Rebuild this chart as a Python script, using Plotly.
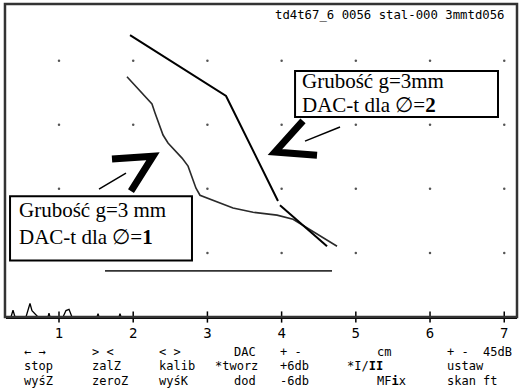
import plotly.graph_objects as go

# ---- data ----
header_text = "td4t67_6 0056 stal-000 3mmtd056"
x_ticks = [1, 2, 3, 4, 5, 6, 7]
grid_levels = [20, 40, 60, 80]

dac2_x = [1.957, 3.251, 3.951, None, 3.978, 4.612]
dac2_y = [88.0, 69.0, 36.2, None, 34.9, 22.1]

dac1_x = [1.916, 2.199, 2.253, 2.294, 2.361, 2.402, 2.469, 2.563, 2.658, 2.739, 2.792,
          2.846, 2.900, 3.035, 3.345, 3.615, 3.938, 4.154, 4.288, 4.518, 4.747]
dac1_y = [75.0, 67.7, 66.5, 63.7, 59.0, 56.8, 54.3, 52.1, 49.6, 47.1, 43.7,
          40.2, 38.0, 36.8, 34.0, 32.7, 31.8, 30.5, 28.6, 25.2, 22.1]

gate_x = [1.620, 4.679]
gate_y = [14.4, 14.4]

noise_x = [0.286, 0.353, 0.380, 0.407, 0.555, 0.596, 0.609, 0.636, 0.677, 0.717, 0.852,
           0.865, 0.879, 1.054, 1.094, 1.135, 1.175, 1.512, 1.526, 1.539, 1.809, 1.822, 1.836, 2.0]
noise_y = [0, 0, 2.1, 0, 0, 3.5, 4.2, 2.0, 1.0, 0, 0,
           1.2, 0, 0, 2.0, 2.4, 0, 0, 1.0, 0, 0, 1.0, 0, 0]

menu_rows = [
    ["\u2190 \u2192", "> <", "< >", "DAC", "+ -", "cm", "+ -  45dB"],
    ["stop", "zalZ", "kalib", "*tworz", "+6db", "*I/<b>II</b>", "ustaw"],
    ["wyśZ", "zeroZ", "wyśK", "dod", "-6db", "MF<b>i</b>x", "skan ft"],
]
menu_col_px = [
    [22, 90, 157, 232, 278, 375, 445],
    [22, 90, 157, 213, 278, 345, 445],
    [22, 90, 157, 232, 278, 375, 445],
]
menu_row_py = [351.5, 366.5, 381]

W, H = 523, 389
L, R, T, B = 6, 6, 4, 72
XMIN, XMAX = 0.2857, 7.172
YMIN, YMAX = 0, 97.7

fig = go.Figure()

# grid dots
gx, gy = [], []
for yv in grid_levels:
    for xv in x_ticks:
        gx.append(xv); gy.append(yv)
fig.add_trace(go.Scatter(x=gx, y=gy, mode="markers",
                         marker=dict(size=2.5, color="#555"), hoverinfo="skip"))

fig.add_trace(go.Scatter(x=noise_x, y=noise_y, mode="lines",
                         line=dict(color="black", width=1.3), cliponaxis=False))
fig.add_trace(go.Scatter(x=gate_x, y=gate_y, mode="lines",
                         line=dict(color="#333", width=1.6)))
fig.add_trace(go.Scatter(x=dac1_x, y=dac1_y, mode="lines",
                         line=dict(color="#2a2a2a", width=1.6)))
fig.add_trace(go.Scatter(x=dac2_x, y=dac2_y, mode="lines",
                         line=dict(color="black", width=2)))
# ticks crossing the axis
fig.add_trace(go.Scatter(x=x_ticks, y=[0] * len(x_ticks), mode="markers",
                         marker=dict(symbol="line-ns", size=8,
                                     line=dict(color="black", width=1.5)),
                         cliponaxis=False))

shapes = []
# frame
shapes.append(dict(type="rect", xref="paper", yref="paper", x0=-0.002, x1=1.0, y0=0, y1=1.0,
                   line=dict(color="#333", width=2.5), layer="above"))
# boxes
shapes.append(dict(type="rect", xref="x", yref="y", x0=4.181, x1=6.916, y0=62.4, y1=76.8,
                   fillcolor="white", line=dict(color="black", width=2), layer="above"))
shapes.append(dict(type="rect", xref="x", yref="y", x0=0.340, x1=2.792, y0=17.6, y1=37.7,
                   fillcolor="white", line=dict(color="black", width=2), layer="above"))
# chevrons
shapes.append(dict(type="path", xref="x", yref="y",
                   path="M 1.714 49.3 L 2.267 50.2 L 1.970 39.3",
                   line=dict(color="black", width=7), layer="above"))
shapes.append(dict(type="path", xref="x", yref="y",
                   path="M 4.288 61.2 L 3.911 51.5 L 4.477 50.5",
                   line=dict(color="black", width=7), layer="above"))
# thin pointer lines
shapes.append(dict(type="line", xref="x", yref="y", x0=1.539, y0=39.9, x1=1.903, y1=44.9,
                   line=dict(color="black", width=1.5), layer="above"))
shapes.append(dict(type="line", xref="x", yref="y", x0=4.315, y0=54.9, x1=4.787, y1=59.3,
                   line=dict(color="black", width=1.5), layer="above"))

serif = dict(family="Liberation Serif, Times New Roman, serif", size=21, color="black")
mono = dict(family="DejaVu Sans Mono, monospace", size=12, color="black")

annotations = []
def box_text(txt, x, y):
    annotations.append(dict(text=txt, x=x, y=y, xref="x", yref="y", xanchor="left",
                            yanchor="middle", showarrow=False, font=serif))

box_text("Grubość g=3mm", 4.248, 73.8)
box_text("DAC-t dla \u2205=<b>2</b>", 4.248, 66.2)
box_text("Grubość g=3 mm", 0.434, 33.5)
box_text("DAC-t dla \u2205=<b>1</b>", 0.434, 25.1)

annotations.append(dict(text=header_text, x=513 / W, y=1 - 14 / H, xref="paper", yref="paper",
                        xanchor="right", yanchor="middle", showarrow=False,
                        font=dict(family="DejaVu Sans Mono, monospace", size=12.3, color="black")))

for r, row in enumerate(menu_rows):
    for c, txt in enumerate(row):
        px = menu_col_px[r][c]
        annotations.append(dict(text=txt, x=(px - L) / (W - L - R), y=-(menu_row_py[r] - (H - B)) / (H - T - B),
                                xref="paper", yref="paper", xanchor="left", yanchor="middle",
                                showarrow=False, font=mono))

fig.update_layout(
    width=W, height=H,
    margin=dict(l=L, r=R, t=T, b=B, pad=0),
    paper_bgcolor="white", plot_bgcolor="white",
    showlegend=False,
    shapes=shapes, annotations=annotations,
    xaxis=dict(range=[XMIN, XMAX], tickvals=x_ticks, ticktext=[str(v) for v in x_ticks],
               showgrid=False, zeroline=False, showline=True, linecolor="black", linewidth=2,
               ticks="", ticklabelstandoff=2,
               tickfont=dict(family="DejaVu Sans Mono, monospace", size=14, color="black")),
    yaxis=dict(range=[YMIN, YMAX], showgrid=False, zeroline=False, showline=False,
               showticklabels=False, ticks=""),
)

fig.write_html("out.html")
